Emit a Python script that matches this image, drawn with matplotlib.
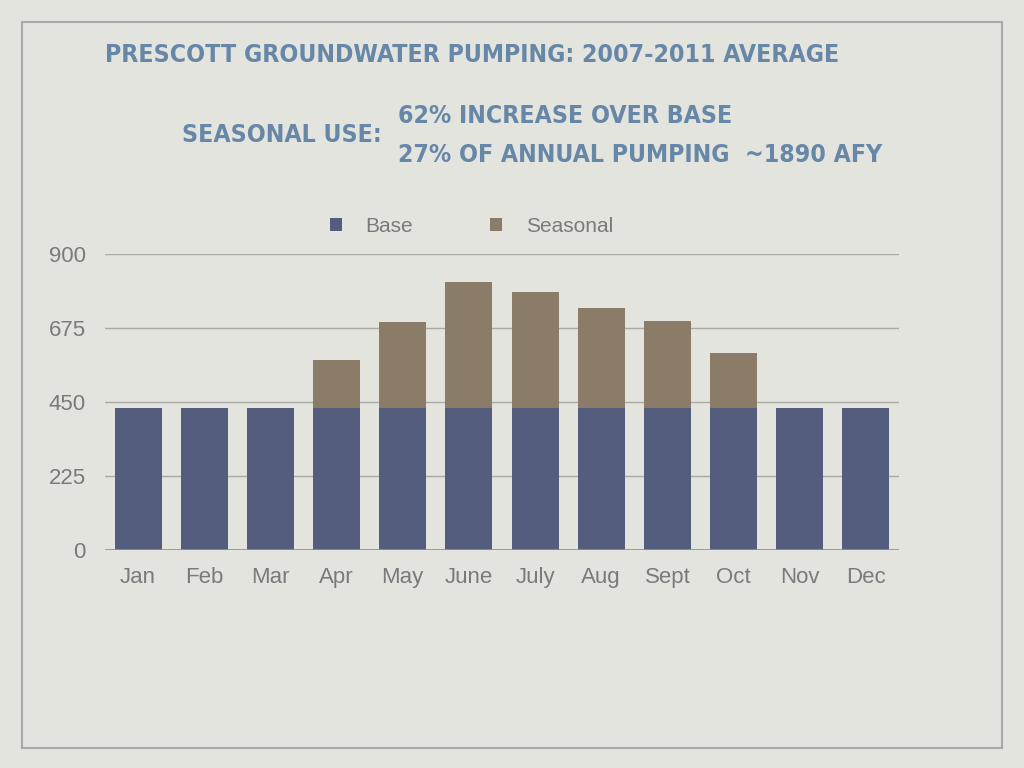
import numpy as np
import matplotlib.pyplot as plt
from matplotlib.patches import Rectangle

# =============================================================================
# Data (acre-feet per month)
# =============================================================================
months   = ['Jan', 'Feb', 'Mar', 'Apr', 'May', 'June',
            'July', 'Aug', 'Sept', 'Oct', 'Nov', 'Dec']
base     = [432, 432, 432, 432, 432, 432, 432, 432, 432, 432, 432, 432]
seasonal = [0, 0, 0, 146, 261, 383, 352, 304, 265, 167, 0, 0]
yticks   = [0, 225, 450, 675, 900]

# =============================================================================
# Style
# =============================================================================
bg_col    = '#e4e4de'
base_col  = '#545d7d'
seas_col  = '#8a7c66'
title_col = '#6787a8'
text_col  = '#7a7a7a'
grid_col  = '#a9aaa6'
head_kw   = dict(family=['DejaVu Sans'], stretch='condensed', weight='bold',
                 fontsize=17.8, color=title_col, va='center')

plt.rcParams['font.family'] = ['Liberation Sans', 'DejaVu Sans']

fig = plt.figure(figsize=(10.24, 7.68), dpi=100, facecolor=bg_col)

# slide border
fig.patches.append(Rectangle((22 / 1024, 1 - 748 / 768), 980 / 1024, 726 / 768,
                             transform=fig.transFigure, fill=False,
                             edgecolor='#a8a8a8', lw=1.5))

# headings
fig.text(105 / 1024, 1 - 55 / 768, 'PRESCOTT GROUNDWATER PUMPING: 2007-2011 AVERAGE',
         ha='left', **head_kw)
fig.text(382 / 1024, 1 - 135 / 768, 'SEASONAL USE:', ha='right', **head_kw)
fig.text(398 / 1024, 1 - 116 / 768, '62% INCREASE OVER BASE', ha='left', **head_kw)
fig.text(398 / 1024, 1 - 155 / 768, '27% OF ANNUAL PUMPING  ~1890 AFY',
         ha='left', **head_kw)

# =============================================================================
# Chart
# =============================================================================
ax = fig.add_axes([105 / 1024, 1 - 550 / 768, 794 / 1024, 296 / 768])
ax.set_facecolor('none')

x = np.arange(len(months))
ax.bar(x, base, width=0.71, color=base_col, label='Base', zorder=2)
ax.bar(x, seasonal, bottom=base, width=0.71, color=seas_col,
       label='Seasonal', zorder=2)

ax.set_xlim(-0.5, len(months) - 0.5)
ax.set_ylim(0, 900)
ax.set_yticks(yticks)
ax.set_xticks(x)
ax.set_xticklabels(months)
ax.tick_params(axis='both', length=0, labelsize=16, labelcolor=text_col)
ax.tick_params(axis='x', pad=12)
ax.tick_params(axis='y', pad=14)

for y in yticks[1:]:
    ax.axhline(y, color=grid_col, lw=1, zorder=1)
ax.axhline(0, color='#8f908c', lw=1.2, zorder=3)

for side in ['top', 'right', 'left', 'bottom']:
    ax.spines[side].set_visible(False)

leg = ax.legend(loc='center', bbox_to_anchor=(0.4616, 1.093), ncol=2,
                frameon=False, fontsize=15, handlelength=0.55,
                handleheight=0.55, handletextpad=1.15, columnspacing=3.7,
                borderpad=0)
for t in leg.get_texts():
    t.set_color(text_col)

fig.savefig('out.png', dpi=100, facecolor=bg_col)
